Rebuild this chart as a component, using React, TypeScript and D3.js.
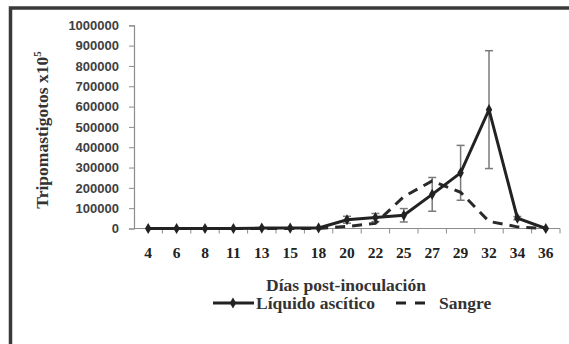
import * as d3 from 'd3';
import React, { useEffect, useRef } from 'react';

const days = ['4', '6', '8', '11', '13', '15', '18', '20', '22', '25', '27', '29', '32', '34', '36'];
const liquido = [0, 0, 0, 0, 2000, 2000, 3000, 43000, 54000, 65000, 168000, 274000, 585000, 51000, 0];
const liquidoErr = [0, 0, 0, 0, 0, 0, 0, 17000, 20000, 33000, 83000, 135000, 290000, 8000, 0];
const sangre = [0, 0, 0, 0, 0, 0, 0, 10000, 25000, 157000, 234000, 178000, 35000, 8000, 0];
const yTicks = [0, 100000, 200000, 300000, 400000, 500000, 600000, 700000, 800000, 900000, 1000000];

const W = 569;
const H = 344;
const serif = '"Liberation Serif", "Times New Roman", serif';
const sans = '"Liberation Sans", Arial, sans-serif';

function App() {
  const ref = useRef(null);

  useEffect(() => {
    const svg = d3.select(ref.current);
    svg.selectAll('*').remove();

    const x = d3.scaleBand().domain(days).range([134, 560]).padding(0);
    const y = d3.scaleLinear().domain([0, 1000000]).range([228.5, 25.3]);
    const cx = d => x(d) + x.bandwidth() / 2;

    // outer frame
    svg
      .append('path')
      .attr('d', 'M10.5,' + (H + 10) + ' L10.5,8 L' + (W + 10) + ',8')
      .attr('fill', 'none')
      .attr('stroke', '#3a3a3a')
      .attr('stroke-width', 3.5);

    // y axis
    const yAxis = svg
      .append('g')
      .attr('transform', 'translate(134,0)')
      .call(
        d3
          .axisLeft(y)
          .tickValues(yTicks)
          .tickSize(5)
          .tickPadding(10)
          .tickFormat(d3.format('d'))
      );
    yAxis.select('.domain').attr('stroke', '#8c8c8c').attr('stroke-width', 1.2);
    yAxis.selectAll('.tick line').attr('stroke', '#8c8c8c');
    yAxis
      .selectAll('.tick text')
      .attr('font-family', sans)
      .attr('font-weight', 'bold')
      .attr('font-size', 13)
      .attr('fill', '#404040');

    // x axis, ticks sit between the categories
    const xAxis = svg.append('g');
    xAxis
      .append('line')
      .attr('x1', 134)
      .attr('x2', 560)
      .attr('y1', y(0))
      .attr('y2', y(0))
      .attr('stroke', '#8c8c8c')
      .attr('stroke-width', 1.2);
    const bounds = days.map(d => x(d)).concat([x(days[days.length - 1]) + x.bandwidth()]);
    xAxis
      .selectAll('.xtick')
      .data(bounds.slice(1))
      .enter()
      .append('line')
      .attr('x1', d => d)
      .attr('x2', d => d)
      .attr('y1', y(0))
      .attr('y2', y(0) + 5)
      .attr('stroke', '#8c8c8c');
    xAxis
      .selectAll('.xlabel')
      .data(days)
      .enter()
      .append('text')
      .attr('x', d => cx(d))
      .attr('y', 258)
      .attr('text-anchor', 'middle')
      .attr('font-family', serif)
      .attr('font-weight', 'bold')
      .attr('font-size', 15.5)
      .attr('fill', '#222')
      .text(d => d);

    // error bars
    const err = svg.append('g').attr('stroke', '#7a7a7a').attr('stroke-width', 1.5);
    days.forEach((d, i) => {
      if (!liquidoErr[i]) return;
      const top = y(liquido[i] + liquidoErr[i]);
      const bot = y(Math.max(0, liquido[i] - liquidoErr[i]));
      err.append('line').attr('x1', cx(d)).attr('x2', cx(d)).attr('y1', top).attr('y2', bot);
      err.append('line').attr('x1', cx(d) - 4).attr('x2', cx(d) + 4).attr('y1', top).attr('y2', top);
      err.append('line').attr('x1', cx(d) - 4).attr('x2', cx(d) + 4).attr('y1', bot).attr('y2', bot);
    });

    const line = d3
      .line()
      .x(d => cx(d[0]))
      .y(d => y(d[1]));

    // Sangre (dashed)
    svg
      .append('path')
      .attr('d', line(days.map((d, i) => [d, sangre[i]])))
      .attr('fill', 'none')
      .attr('stroke', '#2a2a2a')
      .attr('stroke-width', 3)
      .attr('stroke-dasharray', '10,7');

    // Líquido ascítico (solid with diamonds)
    svg
      .append('path')
      .attr('d', line(days.map((d, i) => [d, liquido[i]])))
      .attr('fill', 'none')
      .attr('stroke', '#222')
      .attr('stroke-width', 3);

    const diamond = d3.symbol().type(d3.symbolDiamond).size(36);
    svg
      .selectAll('.marker')
      .data(days)
      .enter()
      .append('path')
      .attr('d', diamond)
      .attr('transform', (d, i) => 'translate(' + cx(d) + ',' + y(liquido[i]) + ')')
      .attr('fill', '#222');

    // titles
    const yTitle = svg
      .append('text')
      .attr('transform', 'translate(48,130) rotate(-90)')
      .attr('text-anchor', 'middle')
      .attr('font-family', serif)
      .attr('font-weight', 'bold')
      .attr('font-size', 17.5)
      .attr('fill', '#333');
    yTitle.append('tspan').text('Tripomastigotos x10');
    yTitle.append('tspan').attr('font-size', 11).attr('dy', -7).text('5');

    svg
      .append('text')
      .attr('x', 346)
      .attr('y', 291)
      .attr('text-anchor', 'middle')
      .attr('font-family', serif)
      .attr('font-weight', 'bold')
      .attr('font-size', 17.5)
      .attr('fill', '#333')
      .text('Días post-inoculación');

    // legend
    const legend = svg.append('g');
    legend
      .append('line')
      .attr('x1', 213)
      .attr('x2', 254)
      .attr('y1', 303)
      .attr('y2', 303)
      .attr('stroke', '#222')
      .attr('stroke-width', 3);
    legend
      .append('path')
      .attr('d', diamond)
      .attr('transform', 'translate(233,303)')
      .attr('fill', '#222');
    legend
      .append('text')
      .attr('x', 256)
      .attr('y', 309)
      .attr('font-family', serif)
      .attr('font-weight', 'bold')
      .attr('font-size', 17.5)
      .attr('fill', '#333')
      .text('Líquido ascítico');
    legend
      .append('line')
      .attr('x1', 396)
      .attr('x2', 426)
      .attr('y1', 303)
      .attr('y2', 303)
      .attr('stroke', '#222')
      .attr('stroke-width', 3)
      .attr('stroke-dasharray', '10,9');
    legend
      .append('text')
      .attr('x', 439)
      .attr('y', 309)
      .attr('font-family', serif)
      .attr('font-weight', 'bold')
      .attr('font-size', 17.5)
      .attr('fill', '#333')
      .text('Sangre');
  }, []);

  return (
    <svg
      ref={ref}
      width={W}
      height={H}
      style={{ position: 'absolute', left: 0, top: 0, background: '#fff' }}
    />
  );
}

export default App;
